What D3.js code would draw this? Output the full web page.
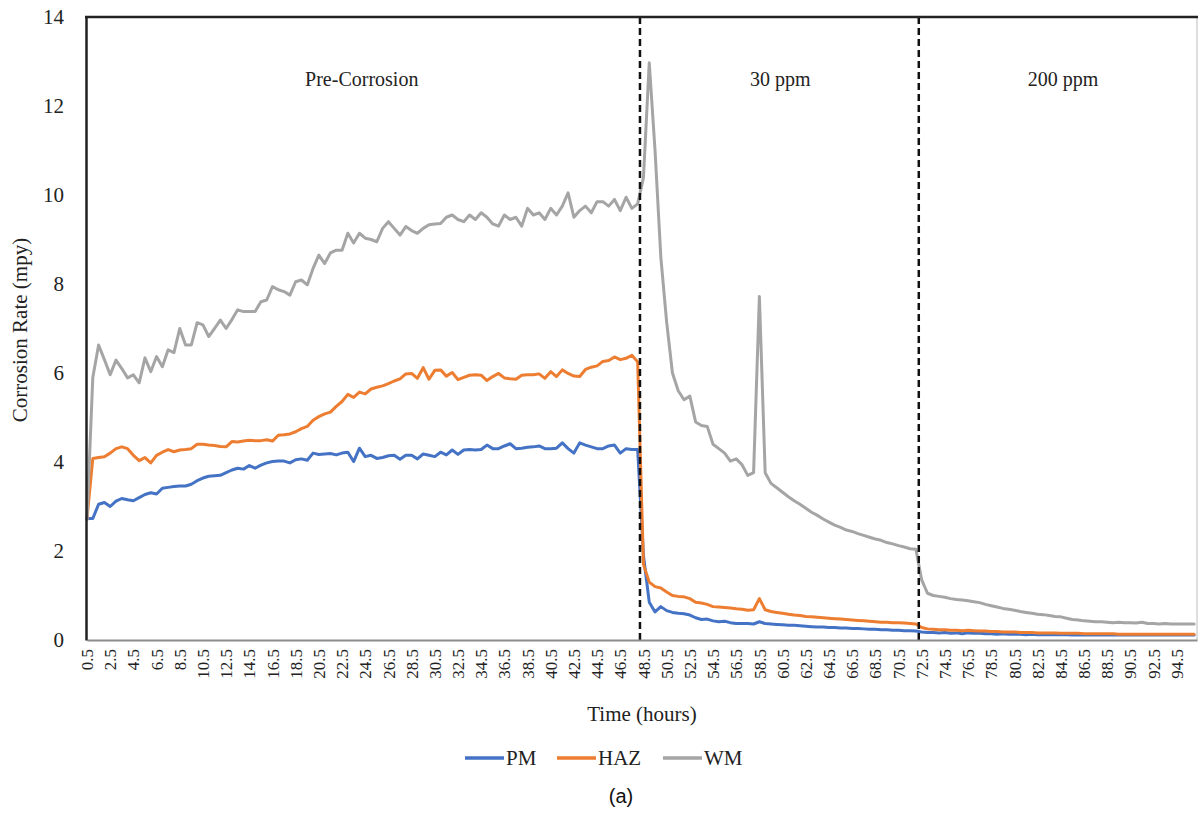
<!DOCTYPE html>
<html>
<head>
<meta charset="utf-8">
<script src="https://cdn.jsdelivr.net/npm/d3@7"></script>
<style>
  html, body { margin: 0; padding: 0; background: #fff; }
  svg { display: block; }
</style>
</head>
<body>
<svg id="chart" width="1198" height="814"></svg>
<script>
// ---- data ----
const seriesNames = ["PM", "HAZ", "WM"];
const seriesColors = ["#4472C4", "#ED7D31", "#A5A5A5"];
// time categories every 0.5 h from 0.5 to 96.0
const hours = d3.range(0, 192).map(i => 0.5 + i * 0.5);
const xTickLabels = ["0.5","2.5","4.5","6.5","8.5","10.5","12.5","14.5","16.5","18.5","20.5","22.5","24.5","26.5","28.5","30.5","32.5","34.5","36.5","38.5","40.5","42.5","44.5","46.5","48.5","50.5","52.5","54.5","56.5","58.5","60.5","62.5","64.5","66.5","68.5","70.5","72.5","74.5","76.5","78.5","80.5","82.5","84.5","86.5","88.5","90.5","92.5","94.5"];
const yTicks = [0, 2, 4, 6, 8, 10, 12, 14];
const phaseLabels = ["Pre-Corrosion", "30 ppm", "200 ppm"];
const phaseLabelHours = [24.2, 60.3, 84.7];
const phaseBoundaries = [48.2, 72.25];

const PM = [
2.73,2.73,3.05,3.09,3.00,3.12,3.18,3.15,3.13,3.20,3.27,3.31,3.28,3.41,3.43,3.45,3.46,3.46,3.50,3.58,
3.64,3.68,3.69,3.70,3.76,3.82,3.86,3.84,3.92,3.86,3.93,3.98,4.01,4.02,4.02,3.98,4.05,4.07,4.04,4.20,
4.17,4.18,4.19,4.16,4.20,4.22,4.01,4.31,4.12,4.15,4.08,4.10,4.14,4.15,4.06,4.15,4.15,4.07,4.18,4.15,
4.12,4.22,4.16,4.27,4.17,4.27,4.28,4.27,4.28,4.38,4.30,4.30,4.36,4.41,4.30,4.31,4.33,4.34,4.36,4.30,
4.30,4.31,4.43,4.30,4.20,4.43,4.38,4.34,4.30,4.30,4.36,4.38,4.20,4.30,4.28,4.28,1.90,0.85,0.63,0.75,
0.66,0.62,0.60,0.59,0.56,0.50,0.46,0.47,0.43,0.41,0.42,0.39,0.37,0.37,0.37,0.36,0.41,0.37,0.36,0.35,
0.34,0.33,0.33,0.32,0.31,0.30,0.29,0.29,0.28,0.28,0.27,0.27,0.26,0.26,0.25,0.24,0.24,0.23,0.23,0.22,
0.22,0.21,0.21,0.20,0.18,0.17,0.17,0.16,0.17,0.15,0.16,0.14,0.16,0.15,0.15,0.14,0.14,0.13,0.14,0.13,
0.13,0.13,0.12,0.13,0.12,0.12,0.12,0.12,0.12,0.12,0.11,0.12,0.11,0.11,0.11,0.11,0.11,0.11,0.11,0.11,
0.11,0.11,0.11,0.11,0.11,0.11,0.11,0.11,0.11,0.11,0.11,0.11
];
const HAZ = [
2.73,4.08,4.10,4.12,4.20,4.30,4.34,4.30,4.15,4.03,4.10,3.98,4.15,4.22,4.28,4.23,4.27,4.28,4.30,4.40,
4.40,4.38,4.37,4.35,4.34,4.46,4.45,4.47,4.49,4.48,4.48,4.50,4.47,4.60,4.61,4.63,4.68,4.75,4.80,4.94,
5.02,5.08,5.12,5.25,5.36,5.52,5.45,5.57,5.53,5.64,5.68,5.71,5.76,5.82,5.87,5.98,5.99,5.88,6.12,5.86,
6.06,6.07,5.93,6.01,5.85,5.90,5.95,5.96,5.95,5.83,5.92,5.99,5.89,5.87,5.86,5.95,5.96,5.96,5.98,5.88,
6.03,5.92,6.07,5.99,5.93,5.92,6.08,6.13,6.16,6.26,6.28,6.36,6.30,6.33,6.40,6.25,1.70,1.30,1.20,1.17,
1.08,1.00,0.98,0.97,0.93,0.85,0.83,0.80,0.75,0.74,0.73,0.72,0.70,0.69,0.67,0.68,0.93,0.68,0.64,0.62,
0.60,0.58,0.56,0.55,0.53,0.52,0.51,0.50,0.49,0.48,0.47,0.46,0.45,0.44,0.43,0.42,0.41,0.40,0.40,0.39,
0.39,0.38,0.37,0.36,0.28,0.25,0.24,0.23,0.23,0.22,0.22,0.21,0.22,0.21,0.20,0.20,0.19,0.19,0.18,0.18,
0.18,0.17,0.17,0.17,0.16,0.16,0.16,0.16,0.15,0.15,0.15,0.15,0.14,0.14,0.14,0.14,0.14,0.14,0.13,0.13,
0.13,0.13,0.13,0.13,0.13,0.13,0.13,0.13,0.13,0.13,0.13,0.13
];
const WM = [
2.70,5.90,6.63,6.30,5.96,6.29,6.10,5.89,5.96,5.78,6.34,6.03,6.37,6.14,6.52,6.46,7.00,6.63,6.63,7.13,
7.08,6.82,7.00,7.19,7.00,7.20,7.42,7.38,7.38,7.38,7.60,7.64,7.94,7.87,7.83,7.75,8.05,8.09,7.98,8.35,
8.65,8.46,8.70,8.76,8.76,9.14,8.92,9.14,9.03,9.00,8.95,9.25,9.40,9.25,9.10,9.29,9.20,9.14,9.25,9.33,
9.35,9.36,9.50,9.55,9.45,9.40,9.55,9.45,9.60,9.50,9.35,9.30,9.55,9.45,9.50,9.30,9.70,9.55,9.60,9.45,
9.70,9.55,9.75,10.05,9.50,9.65,9.75,9.60,9.85,9.85,9.75,9.90,9.65,9.95,9.70,9.80,10.39,12.97,11.00,8.60,
7.15,6.00,5.60,5.40,5.48,4.90,4.82,4.80,4.40,4.30,4.20,4.02,4.07,3.94,3.70,3.76,7.72,3.76,3.52,3.42,
3.32,3.22,3.13,3.05,2.96,2.87,2.80,2.72,2.65,2.58,2.53,2.47,2.44,2.39,2.35,2.31,2.27,2.24,2.19,2.16,
2.12,2.09,2.05,2.04,1.35,1.05,1.00,0.98,0.96,0.93,0.91,0.90,0.88,0.86,0.84,0.80,0.77,0.74,0.71,0.69,
0.67,0.64,0.62,0.60,0.58,0.57,0.55,0.53,0.52,0.49,0.46,0.45,0.43,0.42,0.41,0.41,0.40,0.39,0.40,0.39,
0.39,0.38,0.40,0.37,0.37,0.36,0.37,0.36,0.36,0.36,0.36,0.36
];
const seriesValues = [PM, HAZ, WM];

// ---- layout ----
const svg = d3.select("#chart");
const plot = { left: 87, right: 1197, top: 17, bottom: 640 };
const serif = "'Liberation Serif', 'Times New Roman', serif";

const x = d3.scaleLinear().domain([0.5, 96.25]).range([plot.left, plot.right]);
const y = d3.scaleLinear().domain([0, 14]).range([plot.bottom, plot.top]);

// frame: right thin gray
svg.append("line").attr("x1", plot.right).attr("x2", plot.right)
  .attr("y1", plot.top).attr("y2", plot.bottom)
  .attr("stroke", "#bdbdbd").attr("stroke-width", 1);

// lines
const line = d3.line().x((d, i) => x(hours[i])).y(d => y(d));
seriesValues.forEach((vals, k) => {
  svg.append("path").datum(vals)
    .attr("d", line)
    .attr("fill", "none")
    .attr("stroke", seriesColors[k])
    .attr("stroke-width", 3)
    .attr("stroke-linejoin", "round")
    .attr("stroke-linecap", "round");
});

// phase boundaries
phaseBoundaries.forEach(h => {
  svg.append("line")
    .attr("x1", x(h)).attr("x2", x(h))
    .attr("y1", plot.top).attr("y2", plot.bottom)
    .attr("stroke", "#111").attr("stroke-width", 2.5)
    .attr("stroke-dasharray", "7,4");
});

// bottom axis
const xAxis = d3.axisBottom(x)
  .tickValues(xTickLabels.map(Number))
  .tickFormat((d, i) => xTickLabels[i])
  .tickSize(0).tickPadding(0);
const gx = svg.append("g").attr("transform", `translate(0,${plot.bottom})`).call(xAxis);
gx.select(".domain").attr("stroke", "#8c8c8c").attr("stroke-width", 2);
gx.selectAll("text")
  .attr("font-family", serif).attr("font-size", 17).attr("fill", "#222")
  .attr("text-anchor", "end")
  .attr("transform", d => `translate(0,9) rotate(-90)`)
  .attr("x", 0).attr("y", 0).attr("dy", "0.33em");

// left axis
const yAxis = d3.axisLeft(y).tickValues(yTicks).tickSize(0).tickPadding(22);
const gy = svg.append("g").attr("transform", `translate(${plot.left - 1},0)`).call(yAxis);
gy.select(".domain").attr("stroke", "#222").attr("stroke-width", 2.5);
gy.selectAll("text").attr("font-family", serif).attr("font-size", 21).attr("fill", "#222");

// top border
svg.append("line").attr("x1", plot.left - 2).attr("x2", plot.right + 1)
  .attr("y1", plot.top).attr("y2", plot.top)
  .attr("stroke", "#222").attr("stroke-width", 2.5);

// phase labels
phaseLabels.forEach((t, i) => {
  svg.append("text").attr("x", x(phaseLabelHours[i])).attr("y", 86)
    .attr("text-anchor", "middle").attr("font-family", serif)
    .attr("font-size", 20).attr("fill", "#222").text(t);
});

// axis titles
svg.append("text").attr("transform", "translate(27,330) rotate(-90)")
  .attr("text-anchor", "middle").attr("font-family", serif)
  .attr("font-size", 21).attr("fill", "#222").text("Corrosion Rate (mpy)");
svg.append("text").attr("x", 642).attr("y", 721)
  .attr("text-anchor", "middle").attr("font-family", serif)
  .attr("font-size", 21).attr("fill", "#222").text("Time (hours)");

// legend
const legendX = [465, 557, 663];
seriesNames.forEach((n, i) => {
  svg.append("line").attr("x1", legendX[i]).attr("x2", legendX[i] + 39)
    .attr("y1", 758).attr("y2", 758)
    .attr("stroke", seriesColors[i]).attr("stroke-width", 3.5);
  svg.append("text").attr("x", legendX[i] + 41).attr("y", 765)
    .attr("font-family", serif).attr("font-size", 21).attr("fill", "#222").text(n);
});

// caption
svg.append("text").attr("x", 621).attr("y", 803).attr("text-anchor", "middle")
  .attr("font-family", "'Liberation Sans', Arial, sans-serif").attr("font-size", 20)
  .attr("fill", "#111").text("(a)");
</script>
</body>
</html>
